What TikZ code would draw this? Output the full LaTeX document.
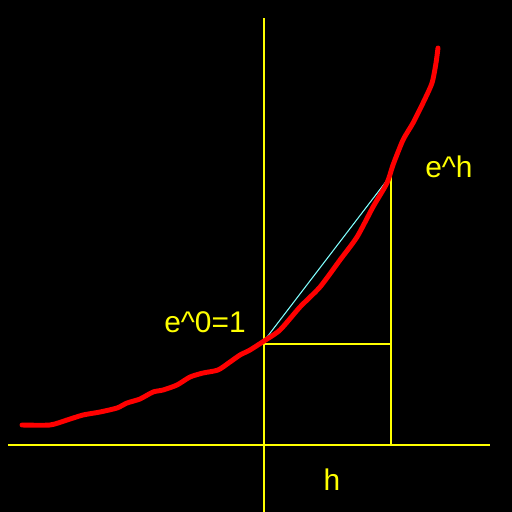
\documentclass[tikz,border=0pt]{standalone}
\usepackage{fontspec}
\setmainfont{Liberation Sans}
\definecolor{axisyellow}{RGB}{255,255,0}
\definecolor{curvered}{RGB}{255,0,0}
\definecolor{chordcyan}{RGB}{128,255,255}

\begin{document}
\begin{tikzpicture}[x=0.02cm, y=-0.02cm, every node/.style={font=\fontsize{17}{20}\selectfont, text=axisyellow}]
    \fill[black] (0,0) rectangle (512,512);
    \useasboundingbox (0,0) rectangle (512,512);
    % axes
    \coordinate (xl) at (8,445);
    \coordinate (xr) at (490,445);
    \coordinate (yt) at (264,18);
    \coordinate (yb) at (264,512);
    \draw[axisyellow, line width=1.1pt] (xl) -- (xr);
    \draw[axisyellow, line width=1.1pt] (yt) -- (yb);
    % points on the curve
    \coordinate (p0) at (264,341);
    \coordinate (ph) at (391,175);
    \coordinate (hb) at (391,445);
    \coordinate (hm) at (391,344);
    \coordinate (p0m) at (264,344);
    \draw[axisyellow, line width=1.1pt] (ph) -- (hb);
    \draw[axisyellow, line width=1.1pt] (p0m) -- (hm);
    \draw[chordcyan, line width=0.6pt] (p0) -- (ph);
    % the curve
    \draw[curvered, line width=2.8pt, line cap=round, line join=round]
        plot[smooth, tension=0.4] coordinates {(22,425) (50,425) (67,420) (83,415) (100,412) (117,408)
        (127,403) (140,399) (153,392) (163,390) (177,385) (190,377) (203,373) (218,370) (230,362)
        (240,355) (250,350) (264,341) (280,330) (300,307) (320,287) (340,260) (357,237) (373,207)
        (387,183) (393,165) (403,140) (413,123) (423,103) (432,83) (436,63) (438,48)};
    % labels
    \node (lone) at (205,322) {e\textasciicircum0=1};
    \node (leh) at (449,167) {e\textasciicircum h};
    \node (lh) at (332,480) {h};
\end{tikzpicture}
\end{document}
